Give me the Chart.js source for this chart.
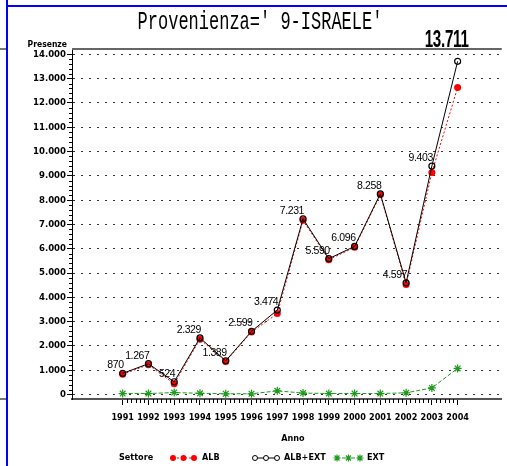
<!DOCTYPE html>
<html lang="it">
<head>
<meta charset="UTF-8">
<title>Provenienza 9-ISRAELE</title>
<script src="https://cdn.jsdelivr.net/npm/chart.js"></script>
<style>
  body { margin: 0; background: #fff; }
  canvas { display: block; }
</style>
</head>
<body>
<canvas id="presenzeChart" width="507" height="466"></canvas>
<script>
// values
const anni = [1991, 1992, 1993, 1994, 1995, 1996, 1997, 1998, 1999, 2000, 2001, 2002, 2003, 2004];
const alb = [830, 1227, 444, 2279, 1359, 2569, 3330, 7171, 5550, 6056, 8218, 4527, 9133, 12636];
const albExt = [870, 1267, 524, 2329, 1389, 2599, 3474, 7231, 5590, 6096, 8258, 4597, 9403, 13711];
const ext = [40, 40, 80, 50, 30, 30, 150, 60, 40, 40, 40, 70, 270, 1075];
const yTicks = [0, 1000, 2000, 3000, 4000, 5000, 6000, 7000, 8000, 9000, 10000, 11000, 12000, 13000, 14000];

const TICK_FONT = '"DejaVu Sans Condensed"';
const GREEN = '#1f9a1f';

// 1000 -> "1.000"
function fmt(v) {
    return String(v).replace(/\B(?=(\d{3})+(?!\d))/g, '.');
}

const toPoints = vals => vals.map((v, i) => ({ x: anni[i], y: v }));

const decor = {
    id: 'decor',
    beforeDraw(chart) {
        const ctx = chart.ctx;
        ctx.save();
        ctx.fillStyle = '#fff';
        ctx.fillRect(0, 0, chart.width, chart.height);
        // frame lines of the page
        ctx.fillStyle = '#0000ff';
        ctx.fillRect(6, 0, 2, chart.height);
        ctx.fillRect(7, 5, chart.width - 7, 2);
        ctx.fillStyle = '#777';
        ctx.fillRect(0, 48, 6, 2);
        ctx.fillRect(0, 398, 6, 2);
        ctx.restore();
    },
    afterDatasetsDraw(chart) {
        const ctx = chart.ctx;
        const meta = chart.getDatasetMeta(1);
        ctx.save();
        ctx.fillStyle = '#000';
        meta.data.forEach((pt, i) => {
            const last = i === meta.data.length - 1;
            if (last) {
                ctx.save();
                ctx.font = 'bold 23px "Liberation Sans"';
                ctx.textAlign = 'right';
                ctx.textBaseline = 'middle';
                ctx.translate(pt.x + 11, pt.y - 21);
                ctx.scale(0.66, 1);
                ctx.fillText(fmt(albExt[i]), 0, 0);
                ctx.restore();
            } else {
                ctx.font = '10.5px "Liberation Sans"';
                ctx.letterSpacing = '-0.4px';
                ctx.textAlign = 'right';
                ctx.textBaseline = 'middle';
                ctx.fillText(fmt(albExt[i]), pt.x + 1, pt.y - 8);
            }
        });
        ctx.restore();
    },
    afterDraw(chart) {
        const ctx = chart.ctx;
        const area = chart.chartArea;
        const xs = chart.scales.x;
        const ys = chart.scales.y;
        ctx.save();

        // top border of the plot
        ctx.fillStyle = '#666';
        ctx.fillRect(area.left, area.top - 1, area.right - area.left, 2);

        // minor ticks
        ctx.strokeStyle = '#000';
        ctx.lineWidth = 1;
        ctx.beginPath();
        for (let v = 200; v < 14000; v += 200) {
            if (v % 1000 === 0) continue;
            const y = Math.round(ys.getPixelForValue(v)) + 0.5;
            ctx.moveTo(area.left - 3, y);
            ctx.lineTo(area.left, y);
        }
        for (let k = 0; k < anni.length - 1; k++) {
            for (let s = 1; s < 6; s++) {
                const x = Math.round(xs.getPixelForValue(anni[k] + s / 6)) + 0.5;
                ctx.moveTo(x, area.bottom);
                ctx.lineTo(x, area.bottom + 4);
            }
        }
        ctx.stroke();

        // title
        ctx.fillStyle = '#000';
        ctx.save();
        ctx.font = '17px "Liberation Mono"';
        ctx.textAlign = 'center';
        ctx.textBaseline = 'alphabetic';
        ctx.translate(260, 29);
        ctx.scale(1, 1.5);
        ctx.fillText("Provenienza=' 9-ISRAELE'", 0, 0);
        ctx.restore();

        // axis names
        ctx.font = 'bold 8.5px ' + TICK_FONT;
        ctx.textAlign = 'right';
        ctx.textBaseline = 'alphabetic';
        ctx.fillText('Presenze', 67, 47);
        ctx.font = 'bold 9px ' + TICK_FONT;
        ctx.textAlign = 'center';
        ctx.textBaseline = 'middle';
        ctx.fillText('Anno', 293, 439);

        // legend
        const ly = 458;
        ctx.textAlign = 'left';
        ctx.fillText('Settore', 119, ly);
        ctx.fillText('ALB', 202, ly);
        ctx.fillText('ALB+EXT', 284, ly);
        ctx.fillText('EXT', 367, ly);

        ctx.lineWidth = 1;
        ctx.strokeStyle = '#ff0000';
        ctx.setLineDash([2, 2]);
        ctx.beginPath(); ctx.moveTo(173, ly); ctx.lineTo(194, ly); ctx.stroke();
        ctx.setLineDash([]);
        ctx.fillStyle = '#ff0000';
        [173, 183.5, 194].forEach(x => {
            ctx.beginPath(); ctx.arc(x, ly, 3, 0, Math.PI * 2); ctx.fill();
        });

        ctx.strokeStyle = '#000';
        ctx.beginPath(); ctx.moveTo(255, ly); ctx.lineTo(277, ly); ctx.stroke();
        ctx.fillStyle = '#fff';
        [255, 266, 277].forEach(x => {
            ctx.beginPath(); ctx.arc(x, ly, 2.5, 0, Math.PI * 2); ctx.fill(); ctx.stroke();
        });

        ctx.strokeStyle = GREEN;
        ctx.setLineDash([3, 2]);
        ctx.beginPath(); ctx.moveTo(337, ly); ctx.lineTo(360, ly); ctx.stroke();
        ctx.setLineDash([]);
        ctx.lineWidth = 1.2;
        [337, 348.5, 360].forEach(x => {
            ctx.beginPath();
            for (let a = 0; a < 4; a++) {
                const ang = a * Math.PI / 4;
                ctx.moveTo(x - 3.5 * Math.cos(ang), ly - 3.5 * Math.sin(ang));
                ctx.lineTo(x + 3.5 * Math.cos(ang), ly + 3.5 * Math.sin(ang));
            }
            ctx.stroke();
        });

        ctx.restore();
    }
};

const ctx = document.getElementById('presenzeChart').getContext('2d');
new Chart(ctx, {
    type: 'line',
    data: {
        datasets: [{
            label: 'ALB',
            data: toPoints(alb),
            order: 1,
            borderColor: '#ff0000',
            backgroundColor: '#ff0000',
            borderWidth: 1,
            borderDash: [2, 2],
            pointRadius: 3.5,
            pointBorderWidth: 0,
            pointBackgroundColor: '#ff0000'
        }, {
            label: 'ALB+EXT',
            data: toPoints(albExt),
            order: 0,
            borderColor: '#000',
            borderWidth: 1,
            pointRadius: 3,
            pointBorderWidth: 1.2,
            pointBorderColor: '#000',
            pointBackgroundColor: 'rgba(0,0,0,0)'
        }, {
            label: 'EXT',
            data: toPoints(ext),
            order: 2,
            borderColor: GREEN,
            borderWidth: 1,
            borderDash: [4, 2],
            pointStyle: 'star',
            pointRadius: 4,
            pointBorderWidth: 1.2,
            pointBorderColor: GREEN
        }]
    },
    options: {
        responsive: false,
        animation: false,
        layout: { padding: { top: 49, left: 0, right: 0, bottom: 0 } },
        plugins: {
            legend: { display: false },
            tooltip: { enabled: false }
        },
        scales: {
            x: {
                type: 'linear',
                min: 1989.033,
                max: 2005.714,
                afterBuildTicks: axis => { axis.ticks = anni.map(v => ({ value: v })); },
                afterFit: axis => { axis.height = 67; },
                grid: { drawOnChartArea: false, drawTicks: true, tickLength: 6, tickColor: '#000' },
                border: { color: '#555', width: 2 },
                ticks: {
                    color: '#000',
                    padding: 7,
                    maxRotation: 0,
                    autoSkip: false,
                    font: { family: TICK_FONT, size: 9, weight: 'bold' },
                    callback: v => String(v)
                }
            },
            y: {
                min: -185,
                max: 14220,
                afterBuildTicks: axis => { axis.ticks = yTicks.map(v => ({ value: v })); },
                afterFit: axis => { axis.width = 72; },
                grid: { color: '#333', lineWidth: 1, drawTicks: true, tickLength: 5, tickColor: '#000' },
                border: { color: '#000', width: 1, dash: [2, 6] },
                ticks: {
                    color: '#000',
                    padding: 1,
                    font: { family: TICK_FONT, size: 9.5, weight: 'bold' },
                    callback: v => fmt(v)
                }
            }
        }
    },
    plugins: [decor]
});
</script>
</body>
</html>
